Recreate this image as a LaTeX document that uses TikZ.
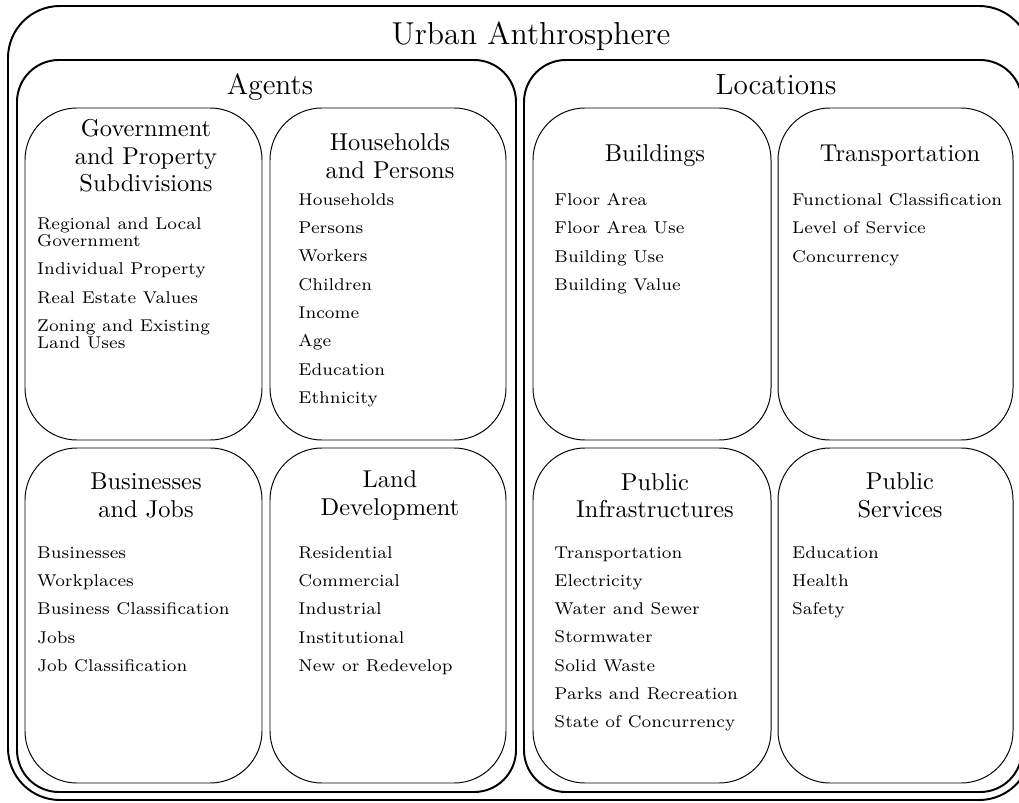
\documentclass[tikz,border=0pt]{standalone}

\begin{document}
\begin{tikzpicture}[x=0.41pt,y=-0.41pt,
  outerbox/.style={draw,thick,rounded corners=21.3pt},
  sectionbox/.style={draw,thick,rounded corners=17.2pt},
  panel/.style={draw,rounded corners=21.3pt},
  maintitle/.style={font=\fontsize{13}{15}\selectfont,anchor=base},
  heading/.style={font=\fontsize{12}{14}\selectfont,anchor=base},
  paneltitle/.style={font=\fontsize{10}{11.3}\selectfont,align=center,inner sep=0pt},
  itemlist/.style={font=\fontsize{7}{11.6}\selectfont,align=left,anchor=north west,inner sep=0pt}]
\useasboundingbox (0,0) rectangle (1019,803);
\draw[outerbox] (8,6) rectangle (1031,800);
\node[maintitle] (urban) at (531,45) {Urban Anthrosphere};
\draw[sectionbox] (17,60) rectangle (516,792);
\node[heading] (agents) at (270,95) {Agents};
\draw[sectionbox] (524,60) rectangle (1022,792);
\node[heading] (locations) at (776,94.5) {Locations};
\draw[panel] (25,108) rectangle (262,440);
\draw[panel] (270,108) rectangle (506,440);
\draw[panel] (25,448) rectangle (262,783);
\draw[panel] (270,448) rectangle (506,783);
\draw[panel] (533,108) rectangle (771,440);
\draw[panel] (778,108) rectangle (1013,440);
\draw[panel] (533,448) rectangle (771,783);
\draw[panel] (778,448) rectangle (1013,783);
\node[paneltitle] (govtitle) at (146,156) {Government\\and Property\\Subdivisions};
\node[paneltitle] (hhtitle) at (390,156) {Households\\and Persons};
\node[paneltitle] (bustitle) at (146,495.5) {Businesses\\and Jobs};
\node[paneltitle] (landtitle) at (390,495.5) {Land\\Development};
\node[paneltitle] (bldtitle) at (655,156) {Buildings};
\node[paneltitle] (trtitle) at (900,156) {Transportation};
\node[paneltitle] (inftitle) at (655,495.5) {Public\\Infrastructures};
\node[paneltitle] (svctitle) at (900,495.5) {Public\\Services};
\node[itemlist] (govitems) at (36.7,217.5) {Regional and Local\\[-4.75pt]Government\\Individual Property\\Real Estate Values\\Zoning and Existing\\[-4.75pt]Land Uses};
\node[itemlist] (hhitems) at (298,193) {Households\\Persons\\Workers\\Children\\Income\\Age\\Education\\Ethnicity};
\node[itemlist] (busitems) at (36.7,546) {Businesses\\Workplaces\\Business Classification\\Jobs\\Job Classification};
\node[itemlist] (landitems) at (298,546) {Residential\\Commercial\\Industrial\\Institutional\\New or Redevelop};
\node[itemlist] (blditems) at (554,193) {Floor Area\\Floor Area Use\\Building Use\\Building Value};
\node[itemlist] (tritems) at (791.7,193) {Functional Classification\\Level of Service\\Concurrency};
\node[itemlist] (infitems) at (554,546) {Transportation\\Electricity\\Water and Sewer\\Stormwater\\Solid Waste\\Parks and Recreation\\State of Concurrency};
\node[itemlist] (svcitems) at (791.7,546) {Education\\Health\\Safety};
\end{tikzpicture}
\end{document}
